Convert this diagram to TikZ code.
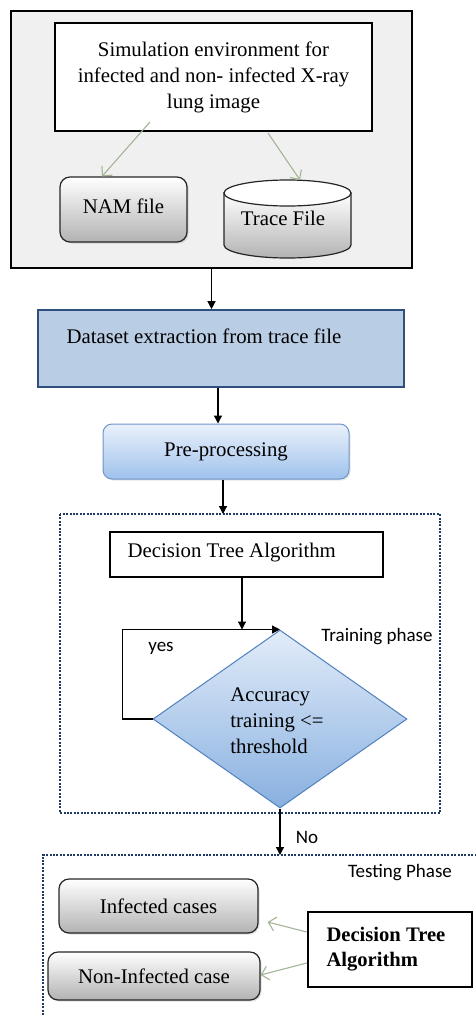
\documentclass[tikz,border=0pt]{standalone}
\usepackage{fontspec}
\setmainfont{Liberation Serif}
\newfontfamily\calib{Carlito}
\usetikzlibrary{shapes.geometric,arrows.meta,shadows}
\definecolor{outerfill}{HTML}{F0F0F0}
\definecolor{dsfill}{HTML}{B9CDE5}
\definecolor{dsdraw}{HTML}{2F4F7F}
\definecolor{pretop}{HTML}{EAF1FB}
\definecolor{prebot}{HTML}{9FC2EC}
\definecolor{predraw}{HTML}{6F94C8}
\definecolor{diatop}{HTML}{E2ECF9}
\definecolor{diabot}{HTML}{88B0E0}
\definecolor{diadraw}{HTML}{4F81BD}
\definecolor{navy}{HTML}{1F3864}
\definecolor{grn}{HTML}{A3B596}
\begin{document}
\begin{tikzpicture}[x=1pt,y=-1pt,
  txt/.style={font=\fontsize{20.8}{26}\selectfont},
  sans/.style={font=\calib\fontsize{19}{22}\selectfont},
  box/.style={draw=black,line width=1pt,inner sep=0pt},
  thickbox/.style={draw=black,line width=2.6pt,fill=white,inner sep=0pt},
  graybox/.style={draw=black!85,line width=1.2pt,rounded corners=10pt,top color=white,bottom color=black!30,inner sep=0pt,
     drop shadow={opacity=0.25,shadow xshift=1.5pt,shadow yshift=-1.5pt}},
  arr/.style={draw=black,line width=1.2pt,-{Triangle[length=8pt,width=8pt]}},
  garr/.style={draw=grn,line width=1.1pt,-{Straight Barb[length=7pt,width=14pt,line width=1.1pt]}},
  dotbox/.style={draw=navy,line width=2.4pt,dash pattern=on 2pt off 1.4pt}
]
\useasboundingbox (0,0) rectangle (475,1015);

% top group
\node[box,fill=outerfill,line width=1.3pt,minimum width=401pt,minimum height=257pt] (outer) at (211.5,139.5) {};
\node[thickbox,txt,align=center,minimum width=317pt,minimum height=108pt] (sim) at (213.5,77)
  {Simulation environment for\\infected and non- infected X-ray\\lung image};
\node[graybox,txt,minimum width=127pt,minimum height=65pt] (nam) at (123.5,209.5) {\raisebox{7pt}{NAM file}};
% cylinder
\shade[top color=white,bottom color=black!30,draw=black!85,line width=1.2pt]
  (224,193) -- (224,245) arc[start angle=180,end angle=0,x radius=63.5,y radius=13] -- (351,193) -- cycle;
\filldraw[fill=white,draw=black!85,line width=1.2pt] (287.5,193) ellipse[x radius=63.5,y radius=13];
\coordinate (trtop) at (300,180);
\node[txt] (trace) at (283,218) {Trace File};

\draw[garr] (150,122) -- (nam.north -| 102,0);
\draw[garr] (268,133) -- (trtop);

% dataset
\node[draw=dsdraw,line width=1.6pt,fill=dsfill,minimum width=366pt,minimum height=77pt,inner sep=0pt] (ds) at (221,348.5) {};
\node[txt,anchor=west] (dstext) at (63,336) {Dataset extraction from trace file};
\draw[arr] (outer.south) -- (outer.south |- ds.north);

% pre-processing
\node[draw=predraw,line width=1pt,rounded corners=9pt,top color=pretop,bottom color=prebot,minimum width=246pt,minimum height=55pt,inner sep=0pt,txt,
  drop shadow={opacity=0.2,shadow xshift=1.5pt,shadow yshift=-1.5pt}] (pre) at (226,451.5) {Pre-processing};
\draw[arr] ([xshift=-3pt]ds.south) -- ([xshift=-8pt]pre.north);

% training
\draw[dotbox] (60,514) rectangle (440,813);
\coordinate (trtopc) at (223,514);
\draw[arr] ([xshift=-3pt]pre.south) -- (trtopc);
\node[box,line width=1.4pt,fill=white,minimum width=273pt,minimum height=45pt] (dta) at (246.5,554.5) {};
\node[txt,anchor=west] (dtatext) at (124,553) {Decision Tree Algorithm};
\node[diamond,draw=diadraw,line width=1pt,top color=diatop,bottom color=diabot,minimum width=254pt,minimum height=178pt,inner sep=0pt] (dia) at (280,719) {};
\node[txt,align=left] (diatext) at (277,721) {Accuracy\\training <=\\threshold};
\draw[arr] (dia.west) -- ++(-30,0) |- (dia.north);
\draw[arr] (dta.south -| 242,0) -- (dia.north -| 242,0);
\node[sans] (yes) at (161,648) {yes};
\node[sans] (trph) at (377,637) {Training phase};

% testing
\draw[dotbox] (480,855) -- (43,855) -- (43,1020);
\coordinate (tstop) at (dia.south |- 0,855);
\draw[arr] (dia.south) -- (tstop);
\node[sans] (no) at (307,837) {No};
\node[sans] (tsph) at (400,873) {Testing Phase};
\node[graybox,txt,minimum width=199pt,minimum height=54pt] (inf) at (158.5,906) {Infected cases};
\node[graybox,txt,minimum width=212pt,minimum height=48pt] (noninf) at (154,976) {Non-Infected case};
\node[thickbox,minimum width=164pt,minimum height=75pt] (dta2) at (390,949.5) {};
\node[txt,font=\bfseries\fontsize{20.6}{25}\selectfont,align=left,anchor=west] (dta2text) at (323,949.5) {Decision Tree\\Algorithm};
\draw[garr] ([yshift=17.5pt]dta2.west) -- ([xshift=9pt,yshift=-16pt]inf.east);
\draw[garr] ([yshift=-13.5pt]dta2.west) -- ([yshift=1pt]noninf.east);
\end{tikzpicture}
\end{document}
